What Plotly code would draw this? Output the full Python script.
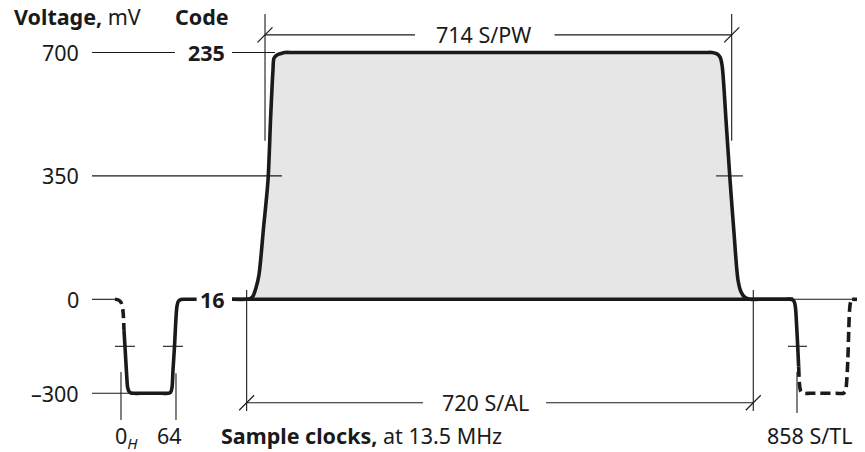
import plotly.graph_objects as go

# Voltage scale (mV) and the matching 8-bit codes
VOLT_TICKS = [700, 350, 0, -300]
VOLT_LABELS = ["700", "350", "0", "\u2013300"]
CODE_TICKS = [700, 0]
CODE_LABELS = ["235", "16"]

# Landmarks along the sample-clock axis, as drawn (the figure is schematic)
OH = 0.0            # 0_H
S64 = 69.8          # "64"
S858 = 858.0        # 858 S/TL
AL_START, AL_END = 159.5, 802.5    # 720 S/AL
PW_START, PW_END = 182.8, 775.1    # 714 S/PW

# Active video pulse (mV, positive scale)
ACTIVE_X = [140.9, 159, 164, 167.5, 171.3, 175.1, 180.8, 186.6, 190, 192.9, 194.2, 198, 203, 208, 220,
            740, 750.1, 756.5, 760.3, 762.9, 767.9, 773, 778, 783.1, 787, 792.1, 798.4, 810, 853]
ACTIVE_MV = [0, 0, 2, 9, 32, 69, 200, 338, 520, 650, 684, 693, 697, 700, 700,
             700, 700, 696, 687, 664, 508, 338, 190, 55, 21, 5, 0, 0, 0]
BASE_X = [140.9, 853]
BASE_MV = [0, 0]

# Sync pulse at 0_H (mV, sync scale)
SYNC_PREV_X = [-7.6, -3.2, 0, 2.2, 3.2, 3.8]
SYNC_PREV_MV = [0, -2.2, -10, -31, -60, -98]
SYNC_X = [3.8, 5.1, 7.2, 8.4, 10.2, 12.7, 16.5, 24, 52, 59.7, 62.8, 64.7, 66, 67.9,
          69.8, 71.1, 73, 76.2, 80, 96]
SYNC_MV = [-98, -152, -241.6, -280, -294, -299, -300, -300, -300, -300, -297.5, -283, -225.6, -152,
           -59.7, -21.4, -5.4, -0.6, 0, 0]

# Next line's sync at 858 S/TL
NEXT_SOLID_X = [845, 849.1, 852.9, 854.8, 856.1, 857.6, 858.9, 860.1]
NEXT_SOLID_MV = [0, 0, -2.2, -10, -28, -87, -151, -215]
NEXT_DASH_X = [860.1, 861.4, 863, 866.8, 875, 908, 916.8, 919.7, 920.9, 922.5, 923.7, 924.7, 926, 927.9]
NEXT_DASH_MV = [-215, -277, -294, -300, -300, -300, -300, -291, -267, -194, -98, -34, -8.6, 0]
TAIL_X = [927.9, 950]
TAIL_MV = [0, 0]

# ---------------- styling ----------------
INK = "#1a1a1a"
FILL = "#e6e6e6"
FONT = "Noto Sans"
FS = 21.5
THICK = 3.6
THIN = 1.1
SMOOTH = 0.8

W, H = 857, 444                 # page body keeps an 8 px margin
X_RANGE = [-143.4, 944.3]
Y_RANGE = [-433.0, 826.2]       # scale above blanking (0..700 mV)
Y2_RANGE = [-487.3, 929.7]      # sync scale (-300..0 mV)

fig = go.Figure()


def line(x, y, axis="y", width=THIN, dash=None, shape="linear"):
    fig.add_trace(go.Scatter(
        x=x, y=y, yaxis=axis, mode="lines",
        line=dict(color=INK, width=width, dash=dash, shape=shape, smoothing=SMOOTH),
        hoverinfo="skip", showlegend=False))


# grey fill under the active line
fig.add_trace(go.Scatter(x=ACTIVE_X, y=ACTIVE_MV, mode="lines", fill="tozeroy",
                         fillcolor=FILL, line=dict(width=0, shape="spline", smoothing=SMOOTH),
                         hoverinfo="skip", showlegend=False))

LEFT = -36.8
# reference lines
line([LEFT, 68.5, None, 140.9, 195.5], [700, 700, None, 700, 700])
line([LEFT, 204.3], [350, 350])
line([755.2, 789.5], [350, 350])
line([LEFT, -7.6], [0, 0], "y2")
line([852.9, 927.9], [0, 0], "y2")
line([LEFT, 10], [-300, -300], "y2")
# 50 % marks on sync edges
line([-7.6, 17.8, None, 53.3, 78.7, None, 846.6, 870.7],
     [-150, -150, None, -150, -150, None, -150, -150], "y2")

# extension lines
line([PW_START, PW_START, None, PW_END, PW_END], [809, 450, None, 809, 450])
line([AL_START, AL_START, None, AL_END, AL_END], [29.7, -356.5, None, 29.7, -356.5], "y2")
line([OH, OH, None, S64, S64, None, S858, S858],
     [-232, -385, None, -236, -385, None, -232, -363], "y2")

# dimension lines
line([PW_START, 373.2, None, 550.2, PW_END], [750, 750, None, 750, 750])
line([AL_START, 383.3, None, 539.4, AL_END], [-330, -330, None, -330, -330], "y2")
fig.add_trace(go.Scatter(x=[PW_START, PW_END], y=[750, 750], mode="markers",
                         marker=dict(symbol="line-ne", size=15, line=dict(color=INK, width=1.2)),
                         hoverinfo="skip", showlegend=False))
fig.add_trace(go.Scatter(x=[AL_START, AL_END], y=[-330, -330], yaxis="y2", mode="markers",
                         marker=dict(symbol="line-ne", size=15, line=dict(color=INK, width=1.2)),
                         hoverinfo="skip", showlegend=False))

# waveform
line(BASE_X, BASE_MV, "y", THICK)
line(ACTIVE_X, ACTIVE_MV, "y", THICK, shape="spline")
line(SYNC_PREV_X, SYNC_PREV_MV, "y2", THICK, dash="9px,5px", shape="spline")
line(SYNC_X, SYNC_MV, "y2", THICK, shape="spline")
line(NEXT_SOLID_X, NEXT_SOLID_MV, "y2", THICK, shape="spline")
line(NEXT_DASH_X, NEXT_DASH_MV, "y2", THICK, dash="10px,5px", shape="spline")
line(TAIL_X, TAIL_MV, "y2", THICK)

# ---------------- text ----------------
ann = []


def text(t, x, y, yref="y", xanchor="center"):
    ann.append(dict(text=t, x=x, y=y, xref="x", yref=yref, xanchor=xanchor,
                    yanchor="middle", showarrow=False,
                    font=dict(family=FONT, size=FS, color=INK)))


for v, lab in zip(VOLT_TICKS, VOLT_LABELS):
    text(lab, -50.8, v, "y" if v > 0 else "y2", "right")
for v, lab in zip(CODE_TICKS, CODE_LABELS):
    text("<b>%s</b>" % lab, 134.5, v, "y", "right")

text("<b>Voltage,</b> mV", -138.3, 803, "y", "left")
text("<b>Code</b>", 66, 803, "y", "left")
text("714 S/PW", 459.5, 750)
text("720 S/AL", 462.6, -330, "y2")
text("0<sub><i>H</i></sub>", -10.2, -440, "y2", "left")
text(str(64), 62.2, -436, "y2")
text("<b>Sample clocks,</b> at 13.5 MHz", 125, -436, "y2", "left")
text("858 S/TL", 874.5, -436, "y2")

fig.update_layout(
    width=W, height=H, margin=dict(l=0, r=0, t=0, b=0),
    paper_bgcolor="white", plot_bgcolor="white",
    xaxis=dict(range=X_RANGE, visible=False, fixedrange=True),
    yaxis=dict(range=Y_RANGE, visible=False, fixedrange=True),
    yaxis2=dict(range=Y2_RANGE, visible=False, overlaying="y", fixedrange=True),
    annotations=ann,
)

fig.write_html("out.html")
